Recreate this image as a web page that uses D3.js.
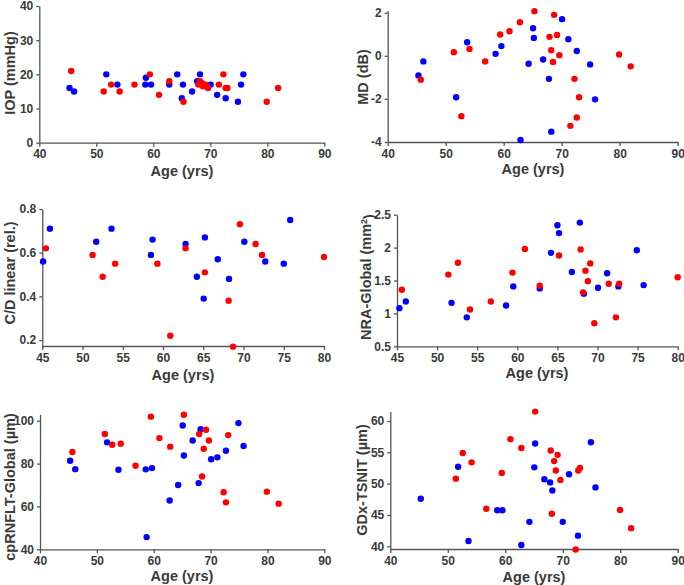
<!DOCTYPE html>
<html><head><meta charset="utf-8">
<script src="https://cdn.jsdelivr.net/npm/d3@7/dist/d3.min.js"></script>
<style>
body{margin:0;background:#fff;}
text{font-family:Arial,"Liberation Sans",sans-serif;font-weight:bold;fill:#3a3a3a;}
</style></head>
<body><svg id="c" width="684" height="585"></svg>
<script>
// ---- Data ----
// IOP
const iopBlueAge=[45.3,46.1,51.75,53.7,58.7,58.6,59.6,62.8,64.2,65.2,65.0,66.8,67.7,68.2,70.06,71.2,72.7,74.85,75.4,75.8];
const iopBlue=[16,15,20,17,19,17,17,17,20,17,13,15,18,20,17,14,13,12,17,20];
const iopRedAge=[45.6,51.3,52.6,54.1,56.7,59.4,61.0,62.8,65.3,67.9,68.2,68.5,68.7,69.2,69.6,71.5,72.3,72.7,73.0,79.9,81.9];
const iopRed=[21,15,17,15,17,20,14,18,12,17,18,17.5,16.5,17,16,17,20,16,16,12,16];
// MD
const mdBlueAge=[45.3,46.15,51.8,53.7,58.6,59.6,62.9,64.3,65.06,65.2,66.8,67.8,68.2,70.06,71.15,72.6,74.9,75.75];
const mdBlue=[-0.91,-0.26,-1.92,0.63,0.09,0.45,-3.91,-0.37,1.28,0.83,-0.17,-1.07,-3.52,1.70,0.77,0.22,-0.40,-2.02];
const mdRedAge=[45.7,51.4,52.7,54.1,56.8,59.4,61.0,62.8,65.3,67.9,68.2,68.5,68.7,69.2,69.6,71.5,72.2,72.6,73.0,79.9,81.9];
const mdRed=[-1.11,0.17,-2.80,0.32,-0.26,0.99,1.14,1.56,2.07,0.88,0.26,-0.29,1.90,0.97,0.03,-3.25,-1.07,-2.86,-1.92,0.06,-0.49];
// C/D linear
const cdBlueAge=[45.1,45.95,51.7,53.6,58.7,58.5,62.8,64.2,65.05,65.2,66.8,68.2,70.1,72.7,75.0,75.8];
const cdBlue=[0.56,0.71,0.65,0.71,0.66,0.59,0.64,0.49,0.39,0.67,0.57,0.48,0.65,0.56,0.55,0.75];
const cdRedAge=[45.45,51.25,52.5,54.05,59.3,60.9,62.8,65.2,68.15,68.7,69.55,71.5,72.3,80.0];
const cdRed=[0.62,0.59,0.49,0.55,0.55,0.22,0.62,0.51,0.38,0.17,0.73,0.64,0.59,0.58];
// NRA-Global
const nraBlueAge=[45.3,46.1,51.8,53.7,58.6,59.5,62.8,64.2,65.0,65.2,66.8,67.8,68.3,70.06,71.2,72.6,74.9,75.75];
const nraBlue=[1.08,1.18,1.16,0.94,1.12,1.41,1.38,1.92,2.34,2.22,1.63,2.38,1.30,1.39,1.61,1.41,1.96,1.43];
const nraRedAge=[45.6,51.4,52.6,54.1,56.7,59.4,60.95,62.8,65.2,67.9,68.2,68.5,68.8,69.1,69.6,71.4,72.3,72.7,80.0];
const nraRed=[1.36,1.59,1.77,1.06,1.18,1.62,1.98,1.42,1.88,1.97,1.32,1.65,1.49,1.76,0.85,1.45,0.94,1.45,1.55];
// cpRNFLT-Global
const rnflBlueAge=[45.3,46.2,51.8,53.8,58.6,59.7,58.75,62.8,64.3,65.1,65.3,66.85,67.9,68.25,70.1,71.2,72.7,74.9,75.8];
const rnflBlue=[81.3,77.4,89.9,77.1,77.3,77.9,45.7,62.8,70.0,97.8,83.8,90.8,70.9,96.0,82.0,82.9,86.0,98.9,88.2];
const rnflRedAge=[45.7,51.4,52.7,54.2,56.8,59.5,61.0,62.9,65.3,68.0,68.5,68.8,69.2,69.7,72.3,72.7,73.1,79.9,81.97];
const rnflRed=[85.4,93.8,88.8,89.3,79.0,101.9,91.9,87.9,102.8,93.8,74.0,86.9,95.8,90.8,66.6,61.9,93.3,66.9,61.3];
// GDx-TSNIT
const gdxBlueAge=[45.3,51.8,53.6,58.6,59.5,62.8,64.2,65.05,65.2,66.8,67.8,68.2,70.0,71.1,72.65,74.9,75.7];
const gdxBlue=[47.6,52.7,40.85,45.75,45.75,40.2,43.9,52.6,56.4,50.7,50.2,48.9,43.9,51.5,41.7,56.6,49.4];
const gdxRedAge=[51.4,52.6,54.15,56.7,59.4,60.9,62.8,65.2,67.9,68.1,68.5,68.8,69.1,69.6,72.25,72.7,73.0,79.97,81.9];
const gdxRed=[50.8,54.9,53.4,46.0,51.7,57.1,55.7,61.5,55.3,45.2,53.6,52.1,54.6,50.6,39.5,52.1,52.5,45.8,42.9];
// Ticks
const xTicksWide=[40,50,60,70,80,90];
const xTicksNarrow=[45,50,55,60,65,70,75,80];
const iopTicks=[0,10,20,30,40];
const mdTicks=[-4,-2,0,2];
const cdTicks=[0.2,0.4,0.6,0.8];
const nraTicks=[0.5,1,1.5,2,2.5];
const rnflTicks=[40,60,80,100];
const gdxTicks=[40,45,50,55,60];

const BLUE="#0000ff", RED="#ff0000";
const svg=d3.select("#c");
const fmt=d=>String(d).replace("\u2212","-");

function panel(o){
  const x=d3.scaleLinear().domain(o.xd).range([o.x0,o.x1]);
  const y=d3.scaleLinear().domain(o.yd).range([o.y0,o.y1]);
  const g=svg.append("g");
  const xa=g.append("g").attr("transform",`translate(0,${o.y0})`)
    .call(d3.axisBottom(x).tickValues(o.xt).tickSize(4).tickPadding(3).tickFormat(fmt).tickSizeOuter(0));
  const ya=g.append("g").attr("transform",`translate(${o.x0},0)`)
    .call(d3.axisLeft(y).tickValues(o.yt).tickSize(3).tickPadding(3).tickFormat(fmt).tickSizeOuter(0));
  [xa,ya].forEach(a=>{
    a.selectAll("path,line").attr("stroke","#555").attr("stroke-width",1.3);
    a.selectAll("text").style("font-size","12px").attr("fill","#3a3a3a");
  });
  const pts=(ages,vals,col)=>g.append("g").selectAll("circle").data(ages).join("circle")
    .attr("cx",d=>x(d)).attr("cy",(d,i)=>y(vals[i])).attr("r",3.2).attr("fill",col);
  pts(o.ba,o.bv,BLUE);
  pts(o.ra,o.rv,RED);
  g.append("text").attr("x",o.xlx).attr("y",o.xly).attr("text-anchor","middle")
    .style("font-size","14.5px").text("Age (yrs)");
  const yl=g.append("text").attr("transform",`translate(${o.ylx},${o.yly}) rotate(-90)`)
    .attr("text-anchor","middle").attr("dy","0.35em").style("font-size","14.5px");
  if(o.sup){
    yl.append("tspan").text(o.yl);
    yl.append("tspan").attr("dy","-0.45em").style("font-size","9px").text(o.sup);
    yl.append("tspan").attr("dy","0.45em").text(")");
  } else yl.text(o.yl);
}

panel({xd:[40,90],x0:39.3,x1:324.3,yd:[0,40],y0:142.7,y1:6,xt:xTicksWide,yt:iopTicks,
  ba:iopBlueAge,bv:iopBlue,ra:iopRedAge,rv:iopRed,xlx:182,xly:176,ylx:10,yly:73,yl:"IOP (mmHg)"});
panel({xd:[40,90],x0:387.7,x1:677.7,yd:[-4,2.1],y0:142,y1:142-6.1*21.55,xt:xTicksWide,yt:mdTicks,
  ba:mdBlueAge,bv:mdBlue,ra:mdRedAge,rv:mdRed,xlx:533,xly:174,ylx:363,yly:77,yl:"MD (dB)"});
panel({xd:[45,80],x0:42.3,x1:324,yd:[0.173,0.8],y0:346,y1:209,xt:xTicksNarrow,yt:cdTicks,
  ba:cdBlueAge,bv:cdBlue,ra:cdRedAge,rv:cdRed,xlx:183,xly:380,ylx:10,yly:273,yl:"C/D linear (rel.)"});
panel({xd:[45,80],x0:397,x1:677.7,yd:[0.5,2.5],y0:346.3,y1:214.7,xt:xTicksNarrow,yt:nraTicks,
  ba:nraBlueAge,bv:nraBlue,ra:nraRedAge,rv:nraRed,xlx:537,xly:378,ylx:366,yly:277,yl:"NRA-Global (mm",sup:"2"});
panel({xd:[40,90],x0:40,x1:324.3,yd:[40,103],y0:549.3,y1:549.3-63*2.143,xt:xTicksWide,yt:rnflTicks,
  ba:rnflBlueAge,bv:rnflBlue,ra:rnflRedAge,rv:rnflRed,xlx:182,xly:581,ylx:10,yly:487,yl:"cpRNFLT-Global (µm)"});
panel({xd:[40,90],x0:390.3,x1:677.7,yd:[39.57,61.5],y0:549,y1:549-21.93*6.265,xt:xTicksWide,yt:gdxTicks,
  ba:gdxBlueAge,bv:gdxBlue,ra:gdxRedAge,rv:gdxRed,xlx:534,xly:582,ylx:362,yly:480,yl:"GDx-TSNIT (µm)"});
</script>
</body></html>
